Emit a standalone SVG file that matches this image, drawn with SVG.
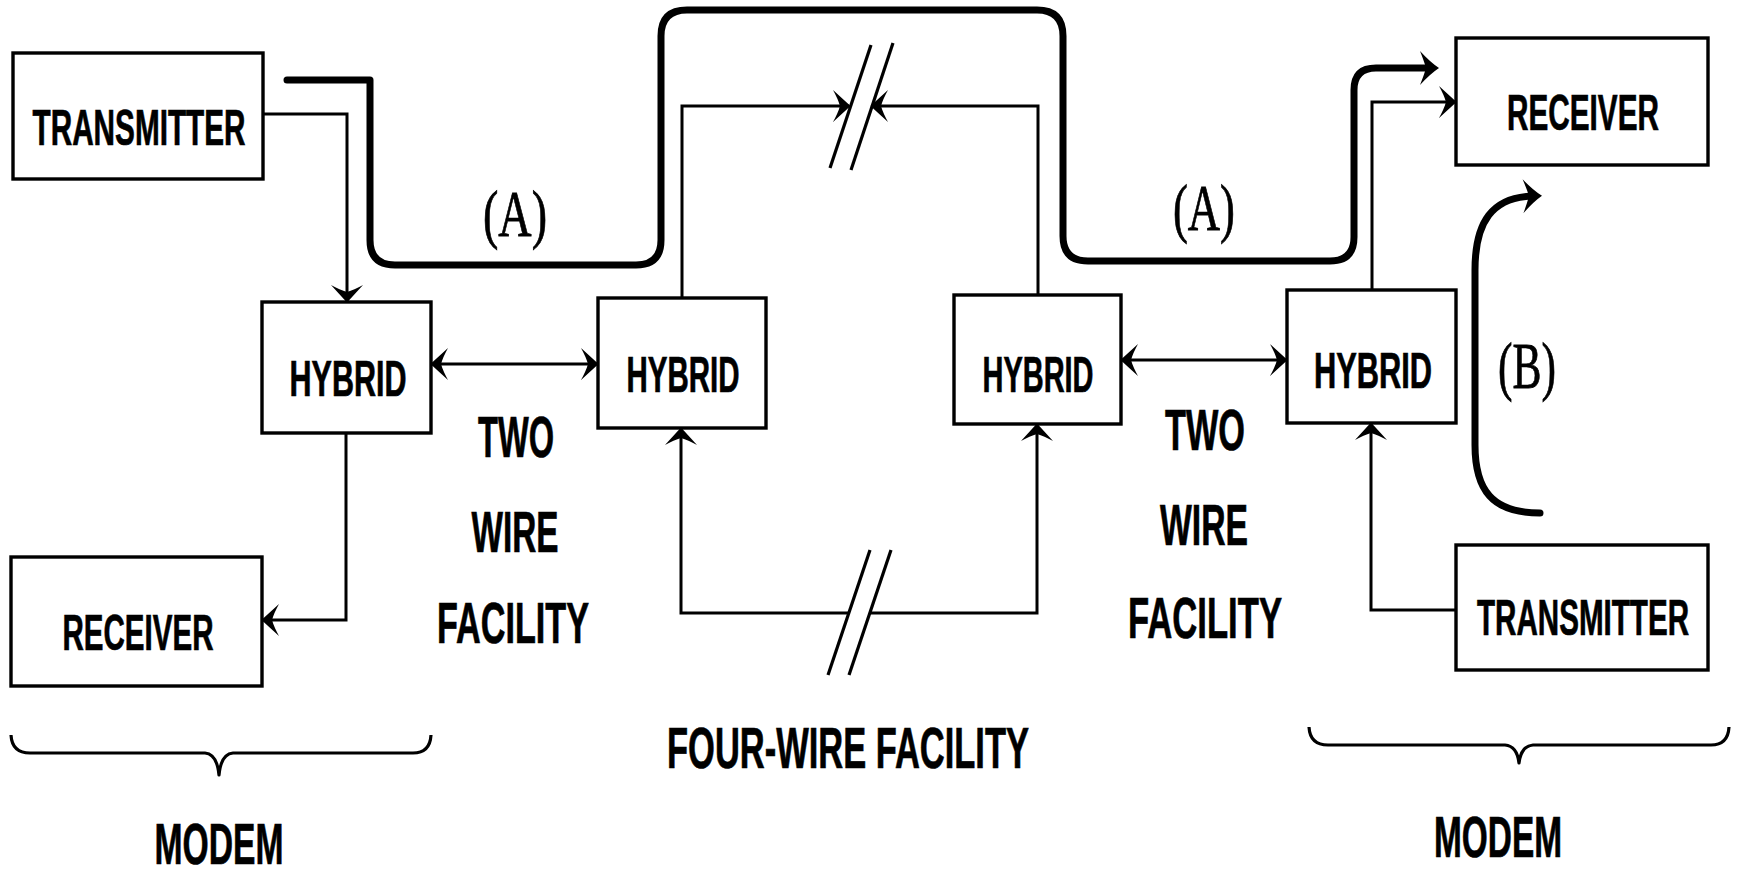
<svg xmlns="http://www.w3.org/2000/svg" width="1743" height="875" viewBox="0 0 1743 875">
<style>
  .box { fill: #fff; stroke: #000; stroke-width: 3.4; }
  .lbl { font-family: "Liberation Sans", Arial, sans-serif; font-weight: bold; font-size: 34px; fill: #000; stroke: #000; stroke-width: 0.5; text-anchor: middle; }
  .big { font-family: "Liberation Sans", Arial, sans-serif; font-weight: bold; font-size: 40px; fill: #000; stroke: #000; stroke-width: 0.5; text-anchor: middle; }
  .ser { font-family: "Liberation Serif", "Times New Roman", serif; font-size: 66px; fill: #000; stroke: #000; stroke-width: 0.8; text-anchor: middle; }
  .thin { fill: none; stroke: #000; stroke-width: 3; }
  .thick { fill: none; stroke: #000; stroke-width: 7; stroke-linecap: round; stroke-linejoin: round; }
  .slash { fill: none; stroke: #000; stroke-width: 3.2; }
  .brace { fill: none; stroke: #000; stroke-width: 3.2; stroke-linejoin: round; }
</style>
<defs>
  <marker id="ah" markerUnits="userSpaceOnUse" viewBox="-20 -18 24 36" refX="0" refY="0" markerWidth="24" markerHeight="36" orient="auto-start-reverse">
    <path d="M1.5,0 Q-5,-6 -16,-16 Q-11,-7 -9,0 Q-11,7 -16,16 Q-5,6 1.5,0 Z" fill="#000"/>
  </marker>
  <marker id="ahb" markerUnits="userSpaceOnUse" viewBox="-24 -22 36 44" refX="0" refY="0" markerWidth="36" markerHeight="44" orient="auto">
    <path d="M9,0 Q0,-6 -10,-17 Q-6,-7 -4,0 Q-6,7 -10,17 Q0,6 9,0 Z" fill="#000"/>
  </marker>
</defs>
<rect width="1743" height="875" fill="#fff"/>

<g id="connectors">
  <path class="thin" d="M263,114 H347 V301" marker-end="url(#ah)"/>
  <path class="thin" d="M346,433 V620 H263" marker-end="url(#ah)"/>
  <path class="thin" d="M432,364 H597" marker-start="url(#ah)" marker-end="url(#ah)"/>
  <path class="thin" d="M682,298 V106 H849" marker-end="url(#ah)"/>
  <path class="thin" d="M1038,295 V106 H872" marker-end="url(#ah)"/>
  <path class="thin" d="M849,613 H681 V429" marker-end="url(#ah)"/>
  <path class="thin" d="M870,613 H1037 V425" marker-end="url(#ah)"/>
  <path class="thin" d="M1122,360 H1286" marker-start="url(#ah)" marker-end="url(#ah)"/>
  <path class="thin" d="M1372,290 V102 H1455" marker-end="url(#ah)"/>
  <path class="thin" d="M1456,610 H1371 V424" marker-end="url(#ah)"/>
  <path class="thick" d="M287,80 H370 V240 Q370,265 395,265 H636 Q661,265 661,240 V36 Q661,10 687,10 H1037 Q1063,10 1063,36 V236 Q1063,261 1088,261 H1330 Q1354,261 1354,237 V90 Q1354,68 1376,68 H1430" marker-end="url(#ahb)"/>
  <path class="thick" d="M1540,513 C1492,513 1475,490 1475,445 V270 C1475,222 1492,197 1533,196" marker-end="url(#ahb)"/>
  <line class="slash" x1="830" y1="168" x2="871" y2="45"/>
  <line class="slash" x1="851" y1="170" x2="893" y2="43"/>
  <line class="slash" x1="828" y1="675" x2="870" y2="550"/>
  <line class="slash" x1="849" y1="675" x2="891" y2="550"/>
  <path class="brace" d="M11,735 Q12,753 30,753 H205 Q217,754 219,775 Q221,754 233,753 H413 Q430,753 431,735"/>
  <path class="brace" d="M1309,727 Q1310,745 1328,745 H1505 Q1517,746 1519,763 Q1521,746 1533,745 H1711 Q1728,745 1729,727"/>
</g>

<g id="tx-left">
  <rect class="box" x="13" y="53" width="250" height="126"/>
  <text class="lbl" transform="translate(139,145) scale(1,1.47)" textLength="213" lengthAdjust="spacingAndGlyphs">TRANSMITTER</text>
</g>
<g id="hybrid-1">
  <rect class="box" x="262" y="302" width="169" height="131"/>
  <text class="lbl" transform="translate(348,396) scale(1,1.47)" textLength="117" lengthAdjust="spacingAndGlyphs">HYBRID</text>
</g>
<g id="rx-left">
  <rect class="box" x="11" y="557" width="251" height="129"/>
  <text class="lbl" transform="translate(138,650) scale(1,1.47)" textLength="151" lengthAdjust="spacingAndGlyphs">RECEIVER</text>
</g>
<g id="hybrid-2">
  <rect class="box" x="598" y="298" width="168" height="130"/>
  <text class="lbl" transform="translate(683,392) scale(1,1.47)" textLength="113" lengthAdjust="spacingAndGlyphs">HYBRID</text>
</g>
<g id="hybrid-3">
  <rect class="box" x="954" y="295" width="167" height="129"/>
  <text class="lbl" transform="translate(1038,392) scale(1,1.47)" textLength="111" lengthAdjust="spacingAndGlyphs">HYBRID</text>
</g>
<g id="hybrid-4">
  <rect class="box" x="1287" y="290" width="169" height="133"/>
  <text class="lbl" transform="translate(1373,388) scale(1,1.47)" textLength="118" lengthAdjust="spacingAndGlyphs">HYBRID</text>
</g>
<g id="rx-right">
  <rect class="box" x="1456" y="38" width="252" height="127"/>
  <text class="lbl" transform="translate(1583,130) scale(1,1.47)" textLength="152" lengthAdjust="spacingAndGlyphs">RECEIVER</text>
</g>
<g id="tx-right">
  <rect class="box" x="1456" y="545" width="252" height="125"/>
  <text class="lbl" transform="translate(1583,635) scale(1,1.47)" textLength="212" lengthAdjust="spacingAndGlyphs">TRANSMITTER</text>
</g>

<g id="labels">
  <text class="ser" x="515" y="236" textLength="64" lengthAdjust="spacingAndGlyphs">(A)</text>
  <text class="ser" x="1204" y="230" textLength="62" lengthAdjust="spacingAndGlyphs">(A)</text>
  <text class="ser" x="1527" y="388" textLength="58" lengthAdjust="spacingAndGlyphs">(B)</text>
  <text class="big" transform="translate(516,457) scale(1,1.45)" textLength="76" lengthAdjust="spacingAndGlyphs">TWO</text>
  <text class="big" transform="translate(515,552) scale(1,1.45)" textLength="87" lengthAdjust="spacingAndGlyphs">WIRE</text>
  <text class="big" transform="translate(513,643) scale(1,1.45)" textLength="152" lengthAdjust="spacingAndGlyphs">FACILITY</text>
  <text class="big" transform="translate(1205,450) scale(1,1.45)" textLength="80" lengthAdjust="spacingAndGlyphs">TWO</text>
  <text class="big" transform="translate(1204,545) scale(1,1.45)" textLength="88" lengthAdjust="spacingAndGlyphs">WIRE</text>
  <text class="big" transform="translate(1205,638) scale(1,1.45)" textLength="154" lengthAdjust="spacingAndGlyphs">FACILITY</text>
  <text class="big" transform="translate(848,768) scale(1,1.45)" textLength="362" lengthAdjust="spacingAndGlyphs">FOUR-WIRE FACILITY</text>
  <text class="big" transform="translate(219,864) scale(1,1.45)" textLength="129" lengthAdjust="spacingAndGlyphs">MODEM</text>
  <text class="big" transform="translate(1498,857) scale(1,1.45)" textLength="128" lengthAdjust="spacingAndGlyphs">MODEM</text>
</g>
</svg>
